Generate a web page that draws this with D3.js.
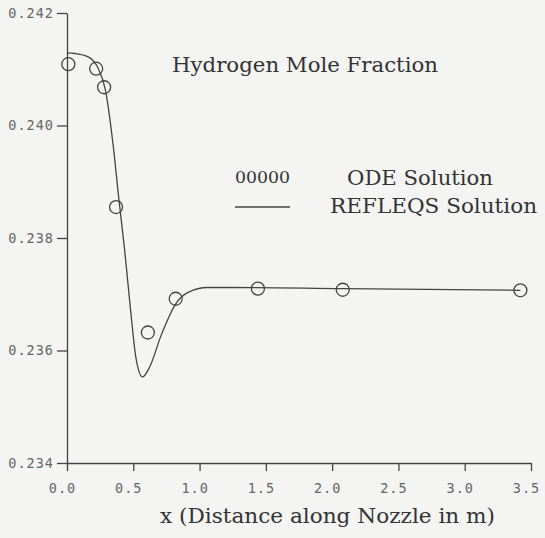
<!DOCTYPE html>
<html>
<head>
<meta charset="utf-8">
<script src="https://cdn.jsdelivr.net/npm/d3@7"></script>
<style>
  body { margin: 0; background: #f4f4f2; }
  svg { display: block; }
  .tick text { font-family: "DejaVu Sans Mono", monospace; font-size: 13.5px; fill: #666; letter-spacing: 1px; }
  .serif { font-family: "DejaVu Serif", "Liberation Serif", serif; fill: #333; }
</style>
</head>
<body>
<div id="chart"></div>
<script>

// ODE solution (circles)
var ode_x = [0.01, 0.22, 0.28, 0.37, 0.61, 0.82, 1.44, 2.08, 3.42];
var ode_y = [0.24109, 0.24101, 0.24068, 0.23855, 0.23632, 0.23692, 0.23710, 0.23708, 0.23707];

// REFLEQS solution (line)
var refleqs_x = [0, 0.06, 0.16, 0.23, 0.29, 0.35, 0.39, 0.435, 0.48, 0.52, 0.57, 0.62, 0.715, 0.82, 0.91, 1.06, 1.22, 2.08, 3.42];
var refleqs_y = [0.24129, 0.24128, 0.24122, 0.24104, 0.24063, 0.23961, 0.23872, 0.23778, 0.23671, 0.23587, 0.23553, 0.23569, 0.23630, 0.23683, 0.23703, 0.23712, 0.23712, 0.23710, 0.23707];

var x_ticks = [0, 0.5, 1.0, 1.5, 2.0, 2.5, 3.0, 3.5];
var y_ticks = [0.234, 0.236, 0.238, 0.240, 0.242];

var width = 545, height = 538;

var svg = d3.select('#chart')
    .append('svg')
    .attr('width', width)
    .attr('height', height);

var xscale = d3.scaleLinear().domain([0, 3.5]).range([67, 531]);
var yscale = d3.scaleLinear().domain([0.234, 0.242]).range([463, 13]);

var xaxis = d3.axisBottom(xscale)
    .tickValues(x_ticks)
    .tickSize(8)
    .tickPadding(12)
    .tickSizeOuter(0)
    .tickFormat(d3.format('.1f'));

var yaxis = d3.axisLeft(yscale)
    .tickValues(y_ticks)
    .tickSize(10)
    .tickPadding(3)
    .tickSizeOuter(0)
    .tickFormat(d3.format('.3f'));

var gx = svg.append('g')
    .attr('transform', 'translate(0,' + yscale(0.234) + ')')
    .call(xaxis);
gx.selectAll('text').attr('dx', -5);

var gy = svg.append('g')
    .attr('transform', 'translate(' + xscale(0) + ',0)')
    .call(yaxis);

svg.selectAll('.domain, .tick line')
    .attr('stroke', '#444')
    .attr('stroke-width', 1.3);

var line_data = refleqs_x.map(function (d, i) { return [d, refleqs_y[i]]; });
var ode_data = ode_x.map(function (d, i) { return [d, ode_y[i]]; });

var line = d3.line()
    .x(function (d) { return xscale(d[0]); })
    .y(function (d) { return yscale(d[1]); })
    .curve(d3.curveMonotoneX);

svg.append('path')
    .datum(line_data)
    .attr('d', line)
    .attr('fill', 'none')
    .attr('stroke', '#444')
    .attr('stroke-width', 1.3);

svg.selectAll('circle.ode')
    .data(ode_data)
    .enter()
    .append('circle')
    .classed('ode', true)
    .attr('cx', function (d) { return xscale(d[0]); })
    .attr('cy', function (d) { return yscale(d[1]); })
    .attr('r', 6.5)
    .attr('fill', 'none')
    .attr('stroke', '#444')
    .attr('stroke-width', 1.3);

// title, legend, axis label
svg.append('text')
    .classed('serif', true)
    .attr('x', 172).attr('y', 72)
    .attr('font-size', 21)
    .attr('textLength', 266)
    .attr('lengthAdjust', 'spacingAndGlyphs')
    .text('Hydrogen Mole Fraction');

svg.append('text')
    .classed('serif', true)
    .attr('x', 235).attr('y', 183)
    .attr('font-size', 16)
    .attr('textLength', 55)
    .attr('lengthAdjust', 'spacingAndGlyphs')
    .text('00000');

svg.append('text')
    .classed('serif', true)
    .attr('x', 347).attr('y', 185)
    .attr('font-size', 21)
    .attr('textLength', 146)
    .attr('lengthAdjust', 'spacingAndGlyphs')
    .text('ODE Solution');

svg.append('line')
    .attr('x1', 235).attr('x2', 290)
    .attr('y1', 207).attr('y2', 207)
    .attr('stroke', '#444')
    .attr('stroke-width', 1.5);

svg.append('text')
    .classed('serif', true)
    .attr('x', 330).attr('y', 213)
    .attr('font-size', 21)
    .attr('textLength', 207)
    .attr('lengthAdjust', 'spacingAndGlyphs')
    .text('REFLEQS Solution');

svg.append('text')
    .classed('serif', true)
    .attr('x', 160).attr('y', 523)
    .attr('font-size', 21)
    .attr('textLength', 335)
    .attr('lengthAdjust', 'spacingAndGlyphs')
    .text('x (Distance along Nozzle in m)');

</script>
</body>
</html>
